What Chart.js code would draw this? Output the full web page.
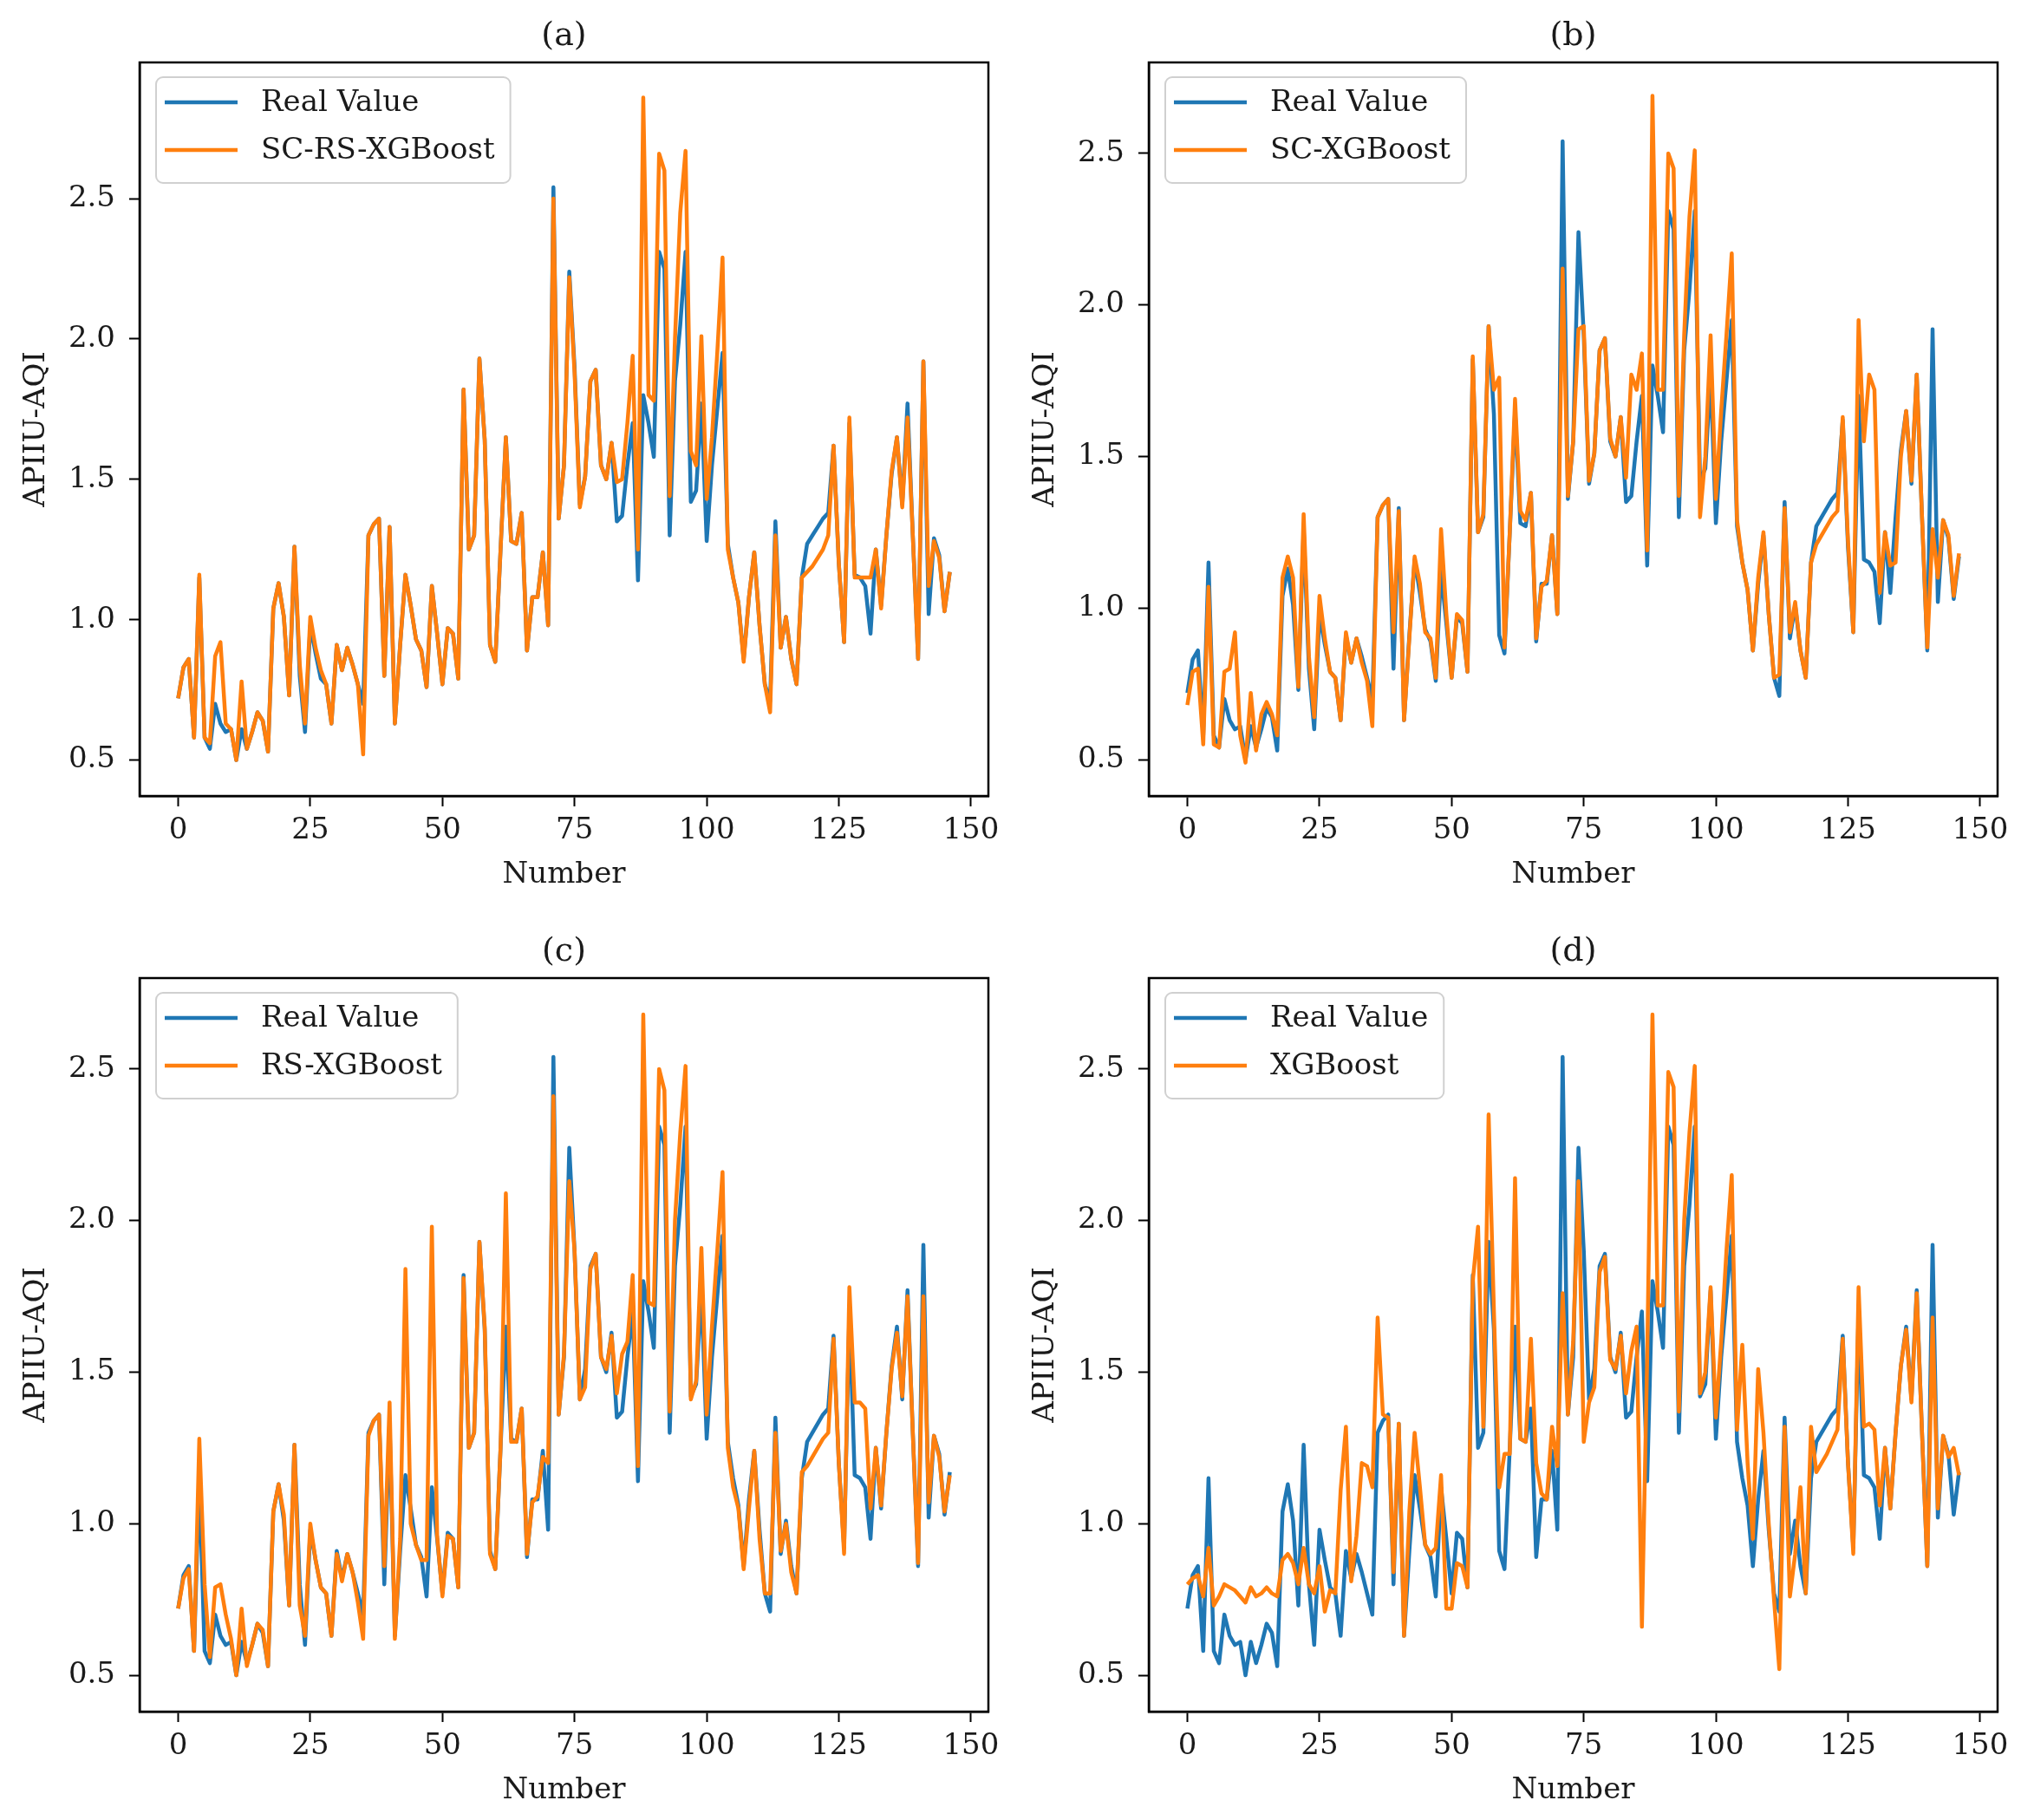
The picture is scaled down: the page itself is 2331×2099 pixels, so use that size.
<!DOCTYPE html>
<html>
<head>
<meta charset="utf-8">
<script src="https://cdn.jsdelivr.net/npm/chart.js@4.4.1/dist/chart.umd.min.js"></script>
<style>
html,body{margin:0;padding:0;background:#fff;}
body{width:2331px;height:2099px;position:relative;overflow:hidden;}
.pane{position:absolute;width:1180px;height:1050px;}
canvas{display:block;}
</style>
</head>
<body>
<div class="pane" style="left:0px;top:0px"><canvas id="pa" width="1180" height="1050"></canvas></div>
<div class="pane" style="left:1164px;top:0px"><canvas id="pb" width="1180" height="1050"></canvas></div>
<div class="pane" style="left:0px;top:1056px"><canvas id="pc" width="1180" height="1050"></canvas></div>
<div class="pane" style="left:1164px;top:1056px"><canvas id="pd" width="1180" height="1050"></canvas></div>
<script>
// ---------------- data ----------------
const realValue = [
0.72,0.83,0.86,0.58,1.15,0.58,0.54,0.70,0.63,0.60,
0.61,0.50,0.61,0.54,0.60,0.67,0.64,0.53,1.04,1.13,
1.01,0.73,1.26,0.80,0.60,0.98,0.88,0.79,0.77,0.63,
0.91,0.82,0.90,0.84,0.77,0.70,1.30,1.34,1.36,0.80,
1.33,0.63,0.91,1.16,1.05,0.93,0.89,0.76,1.12,0.95,
0.77,0.97,0.95,0.79,1.82,1.25,1.30,1.93,1.64,0.91,
0.85,1.25,1.65,1.28,1.27,1.38,0.89,1.08,1.08,1.24,
0.98,2.54,1.36,1.55,2.24,1.90,1.41,1.51,1.85,1.89,
1.55,1.50,1.63,1.35,1.37,1.55,1.70,1.14,1.80,1.70,
1.58,2.31,2.25,1.30,1.85,2.05,2.31,1.42,1.46,1.77,
1.28,1.55,1.75,1.95,1.27,1.15,1.06,0.86,1.08,1.24,
0.98,0.77,0.71,1.35,0.90,1.01,0.86,0.77,1.15,1.27,
1.30,1.33,1.36,1.38,1.62,1.20,0.92,1.70,1.16,1.15,
1.12,0.95,1.25,1.05,1.30,1.52,1.65,1.41,1.77,1.30,
0.86,1.92,1.02,1.29,1.23,1.03,1.17
];
const scRsXgboost = [
0.72,0.83,0.86,0.58,1.16,0.58,0.56,0.87,0.92,0.63,
0.61,0.50,0.78,0.54,0.60,0.67,0.64,0.53,1.04,1.13,
1.01,0.73,1.26,0.84,0.63,1.01,0.90,0.82,0.77,0.63,
0.91,0.82,0.90,0.84,0.77,0.52,1.30,1.34,1.36,0.80,
1.33,0.63,0.91,1.16,1.05,0.93,0.89,0.76,1.12,0.95,
0.77,0.97,0.95,0.79,1.82,1.25,1.30,1.93,1.64,0.91,
0.85,1.25,1.65,1.28,1.27,1.38,0.89,1.08,1.08,1.24,
0.98,2.50,1.36,1.55,2.22,1.88,1.40,1.51,1.85,1.89,
1.55,1.50,1.63,1.49,1.50,1.70,1.94,1.25,2.86,1.80,
1.78,2.66,2.60,1.44,2.00,2.45,2.67,1.60,1.55,2.01,
1.43,1.65,1.95,2.29,1.25,1.15,1.06,0.85,1.08,1.24,
0.98,0.77,0.67,1.30,0.90,1.01,0.86,0.77,1.15,1.17,
1.19,1.22,1.25,1.30,1.62,1.20,0.92,1.72,1.15,1.15,
1.15,1.15,1.25,1.04,1.30,1.53,1.65,1.40,1.72,1.30,
0.86,1.92,1.12,1.28,1.22,1.03,1.17
];
const scXgboost = [
0.68,0.79,0.80,0.55,1.07,0.55,0.54,0.79,0.80,0.92,
0.58,0.49,0.72,0.53,0.65,0.69,0.65,0.58,1.10,1.17,
1.10,0.74,1.31,0.84,0.64,1.04,0.90,0.79,0.77,0.63,
0.92,0.82,0.90,0.82,0.76,0.61,1.30,1.34,1.36,0.92,
1.32,0.63,0.90,1.17,1.08,0.92,0.90,0.77,1.26,0.98,
0.77,0.98,0.96,0.79,1.83,1.25,1.31,1.93,1.72,1.76,
0.87,1.25,1.69,1.32,1.29,1.38,0.90,1.07,1.09,1.24,
0.98,2.12,1.37,1.55,1.92,1.93,1.42,1.51,1.85,1.89,
1.56,1.50,1.63,1.43,1.77,1.72,1.84,1.19,2.69,1.72,
1.72,2.50,2.45,1.37,1.90,2.29,2.51,1.30,1.50,1.90,
1.36,1.65,1.90,2.17,1.29,1.15,1.06,0.86,1.10,1.25,
0.98,0.77,0.78,1.33,0.92,1.02,0.86,0.77,1.15,1.21,
1.24,1.27,1.30,1.32,1.63,1.22,0.92,1.95,1.55,1.77,
1.72,1.05,1.25,1.14,1.15,1.50,1.65,1.42,1.77,1.30,
0.87,1.26,1.10,1.29,1.24,1.04,1.18
];
const rsXgboost = [
0.72,0.82,0.85,0.58,1.28,0.80,0.56,0.79,0.80,0.70,
0.62,0.50,0.72,0.53,0.60,0.67,0.65,0.53,1.04,1.13,
1.03,0.73,1.26,0.73,0.63,1.00,0.88,0.79,0.77,0.63,
0.90,0.81,0.90,0.84,0.74,0.62,1.29,1.34,1.36,0.86,
1.40,0.62,0.95,1.84,1.00,0.93,0.88,0.88,1.98,0.96,
0.76,0.96,0.95,0.79,1.81,1.25,1.30,1.93,1.65,0.90,
0.85,1.25,2.09,1.27,1.27,1.38,0.90,1.07,1.09,1.22,
1.20,2.41,1.36,1.56,2.13,1.90,1.41,1.45,1.84,1.89,
1.55,1.51,1.62,1.43,1.56,1.60,1.82,1.19,2.68,1.73,
1.72,2.50,2.43,1.37,2.00,2.29,2.51,1.41,1.47,1.91,
1.36,1.65,1.90,2.16,1.25,1.12,1.05,0.85,1.05,1.24,
0.95,0.77,0.77,1.30,0.91,1.00,0.84,0.77,1.17,1.19,
1.22,1.25,1.28,1.30,1.61,1.20,0.90,1.78,1.40,1.40,
1.38,1.05,1.25,1.06,1.30,1.51,1.63,1.42,1.75,1.30,
0.87,1.75,1.07,1.29,1.22,1.04,1.16
];
const xgboost = [
0.80,0.82,0.83,0.76,0.92,0.73,0.76,0.80,0.79,0.78,
0.76,0.74,0.79,0.76,0.77,0.79,0.77,0.76,0.88,0.90,
0.87,0.80,0.92,0.80,0.77,0.86,0.71,0.78,0.77,1.11,
1.32,0.81,0.96,1.20,1.19,1.12,1.68,1.36,1.35,0.84,
1.33,0.63,1.04,1.30,1.12,0.93,0.90,0.92,1.16,0.72,
0.72,0.87,0.86,0.79,1.80,1.98,1.32,2.35,1.70,1.12,
1.23,1.23,2.14,1.28,1.27,1.61,1.20,1.10,1.08,1.32,
1.19,1.76,1.36,1.60,2.13,1.27,1.40,1.45,1.83,1.88,
1.54,1.51,1.62,1.43,1.57,1.65,0.66,1.55,2.68,1.72,
1.72,2.49,2.44,1.37,2.00,2.29,2.51,1.43,1.50,1.78,
1.35,1.60,1.90,2.15,1.31,1.59,1.20,0.95,1.51,1.30,
1.00,0.75,0.52,1.32,0.76,0.90,1.12,0.77,1.32,1.17,
1.20,1.23,1.27,1.31,1.61,1.20,0.90,1.78,1.32,1.33,
1.31,1.06,1.25,1.05,1.30,1.52,1.64,1.40,1.76,1.30,
0.86,1.68,1.05,1.29,1.22,1.25,1.16
];
const sampleNumber = realValue.map((_, i) => i);
const xTicks = [0, 25, 50, 75, 100, 125, 150];
const yTicks = [0.5, 1.0, 1.5, 2.0, 2.5];
const panelTitles = ['(a)', '(b)', '(c)', '(d)'];
const modelNames = ['SC-RS-XGBoost', 'SC-XGBoost', 'RS-XGBoost', 'XGBoost'];
const xAxisTitle = 'Number';
const yAxisTitle = 'APIIU-AQI';
const realLabel = 'Real Value';

// ---------------- style ----------------
const FONT = "'DejaVu Serif', 'Liberation Serif', serif";
const FS = 34;
const HALF = FS * 1.2 / 2;
const TFS = 38;
const THALF = TFS * 1.2 / 2;
const BLUE = '#1f77b4', ORANGE = '#ff7f0e';
const TXT = '#1a1a1a';

const framePlugin = {
  id: 'frame',
  afterDatasetsDraw(chart) {
    const {ctx, chartArea: a} = chart;
    ctx.save();
    ctx.strokeStyle = '#000';
    ctx.lineWidth = 2.5;
    ctx.strokeRect(a.left, a.top, a.right - a.left, a.bottom - a.top);
    ctx.restore();
  }
};

const insideLegend = {
  id: 'insideLegend',
  afterDraw(chart) {
    const {ctx, chartArea: a} = chart;
    const ds = chart.data.datasets;
    ctx.save();
    ctx.font = FS + 'px ' + FONT;
    const bx = a.left + 19, by = a.top + 17;
    const textX = a.left + 140;
    const w = Math.max(...ds.map(d => ctx.measureText(d.label).width));
    const bw = textX + w + 18 - bx, bh = 122;
    ctx.beginPath();
    if (ctx.roundRect) ctx.roundRect(bx, by, bw, bh, 8); else ctx.rect(bx, by, bw, bh);
    ctx.fillStyle = 'rgba(255,255,255,0.8)';
    ctx.fill();
    ctx.strokeStyle = '#d0d0d0';
    ctx.lineWidth = 2;
    ctx.stroke();
    ds.forEach((d, i) => {
      const y = a.top + 46 + i * 55;
      ctx.beginPath();
      ctx.moveTo(a.left + 29, y);
      ctx.lineTo(a.left + 113, y);
      ctx.strokeStyle = d.borderColor;
      ctx.lineWidth = 4.5;
      ctx.stroke();
      ctx.fillStyle = TXT;
      ctx.textBaseline = 'middle';
      ctx.textAlign = 'left';
      ctx.fillText(d.label, textX, y + 1);
    });
    ctx.restore();
  }
};

function makeChart(id, title, predLabel, pred, yMin, yMax) {
  const font = {family: FONT, size: FS, weight: 'normal'};
  return new Chart(document.getElementById(id), {
    type: 'line',
    data: {
      datasets: [
        {label: realLabel, data: realValue.map((v, i) => ({x: sampleNumber[i], y: v})),
         borderColor: BLUE, backgroundColor: BLUE, order: 1},
        {label: predLabel, data: pred.map((v, i) => ({x: sampleNumber[i], y: v})),
         borderColor: ORANGE, backgroundColor: ORANGE, order: 0}
      ]
    },
    options: {
      responsive: false,
      animation: false,
      devicePixelRatio: 1,
      layout: {padding: {left: 0, top: 0, right: 40, bottom: 0}},
      elements: {
        point: {radius: 0, hoverRadius: 0},
        line: {borderWidth: 4.5, tension: 0, fill: false, borderJoinStyle: 'round'}
      },
      plugins: {
        legend: {display: false},
        tooltip: {enabled: false},
        title: {display: true, fullSize: false, text: title, color: TXT,
                font: {family: FONT, size: TFS, weight: 'normal'},
                padding: {top: 42 - THALF, bottom: 72 - (42 - THALF) - 2 * THALF}}
      },
      scales: {
        x: {
          type: 'linear', min: -7.3, max: 153.3,
          afterBuildTicks: s => { s.ticks = xTicks.map(v => ({value: v})); },
          afterFit: s => { s.height = 132; },
          ticks: {font: font, color: TXT, padding: 8, maxRotation: 0, autoSkip: false,
                  callback: v => String(v)},
          grid: {display: true, drawOnChartArea: false, drawTicks: true, tickLength: 12,
                 tickWidth: 2, tickColor: '#000'},
          border: {display: true, color: '#000', width: 2.5},
          title: {display: true, text: xAxisTitle, color: TXT, font: font,
                  padding: {top: 0, bottom: 1050 - 1009 - HALF}}
        },
        y: {
          type: 'linear', min: yMin, max: yMax,
          afterBuildTicks: s => { s.ticks = yTicks.map(v => ({value: v})); },
          afterFit: s => { s.width = 161; },
          ticks: {font: font, color: TXT, padding: 16, callback: v => Number(v).toFixed(1)},
          grid: {display: true, drawOnChartArea: false, drawTicks: true, tickLength: 12,
                 tickWidth: 2, tickColor: '#000'},
          border: {display: true, color: '#000', width: 2.5},
          title: {display: true, text: yAxisTitle, color: TXT, font: font,
                  padding: {top: 42 - HALF, bottom: 0}}
        }
      }
    },
    plugins: [framePlugin, insideLegend]
  });
}

makeChart('pa', panelTitles[0], modelNames[0], scRsXgboost, 0.372, 2.985);
makeChart('pb', panelTitles[1], modelNames[1], scXgboost, 0.38, 2.80);
makeChart('pc', panelTitles[2], modelNames[2], rsXgboost, 0.38, 2.80);
makeChart('pd', panelTitles[3], modelNames[3], xgboost, 0.38, 2.80);
</script>
</body>
</html>
